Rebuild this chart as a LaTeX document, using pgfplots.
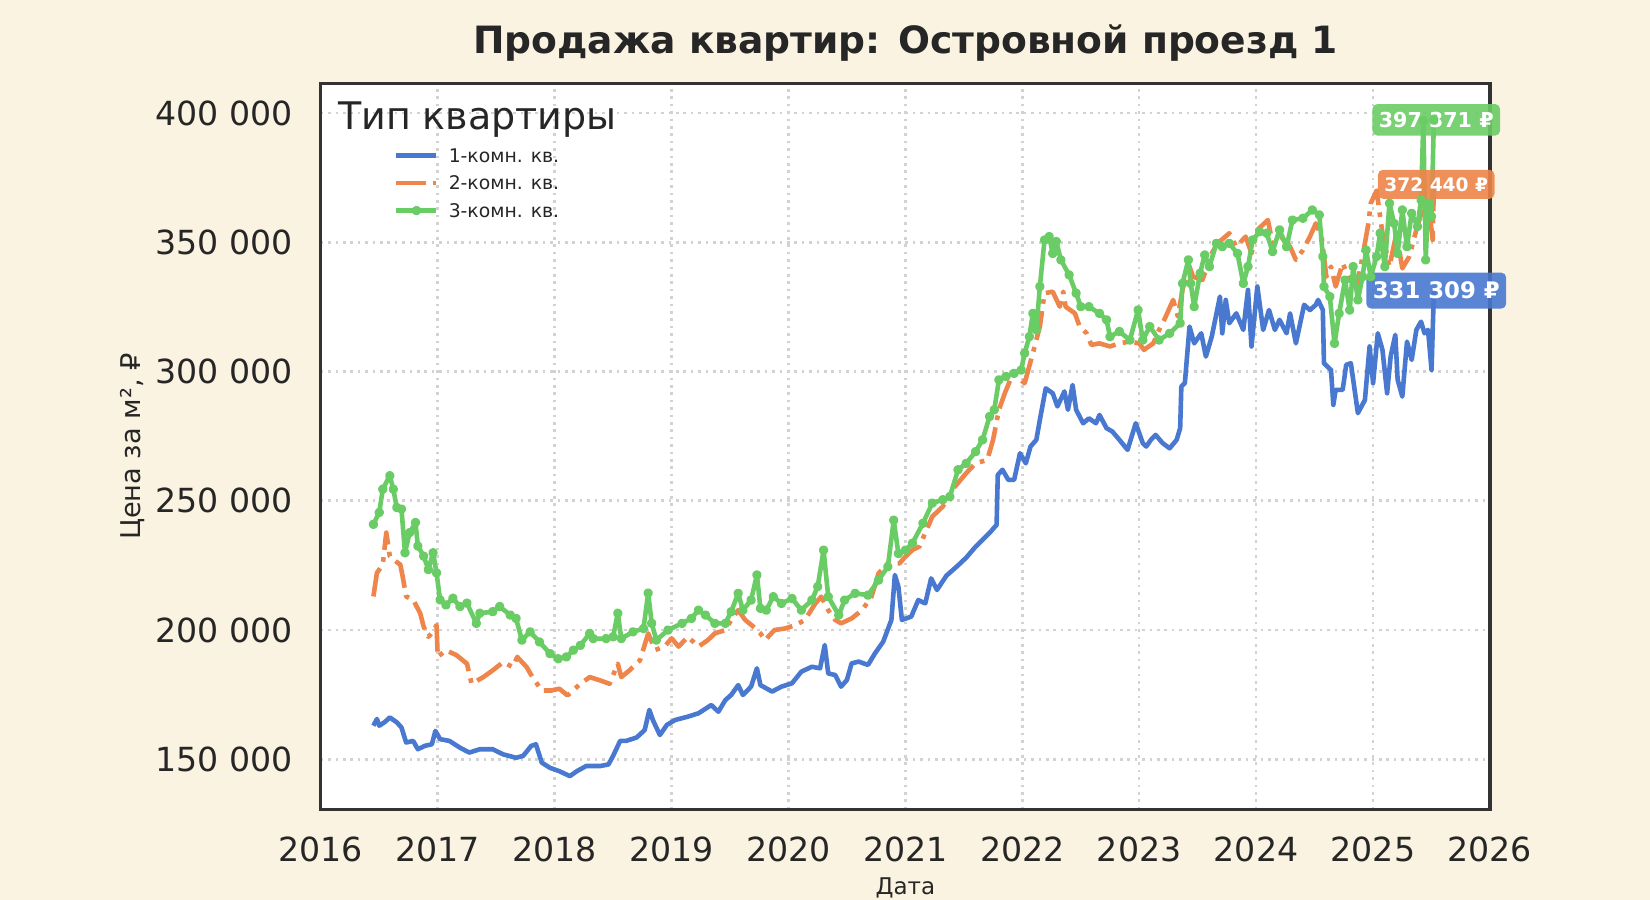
\documentclass[border=0pt]{standalone}
\usepackage{fontspec}
\setmainfont{DejaVu Sans}
\usepackage{pgfplots}
\pgfplotsset{compat=1.18}

\definecolor{bgcream}{HTML}{FBF3E1}
\definecolor{c1}{HTML}{4878D0}
\definecolor{c2}{HTML}{EE854A}
\definecolor{c3}{HTML}{6ACC64}
\definecolor{txt}{HTML}{262626}
\definecolor{framec}{HTML}{333333}
\definecolor{gridc}{HTML}{D2D2D2}

\begin{document}
\begin{tikzpicture}
\fill[bgcream] (0,0) rectangle (825bp,450bp);
\begin{axis}[
  at={(160.4bp,45.25bp)}, anchor=south west,
  scale only axis, width=584.6bp, height=362.9bp,
  xmin=2016, xmax=2026, ymin=130580, ymax=411354,
  clip=false,
  axis background/.style={fill=white},
  axis line style={framec, line width=1.6bp},
  xtick={2016,2017,...,2026},
  xticklabels={2016,2017,2018,2019,2020,2021,2022,2023,2024,2025,2026},
  ytick={150000,200000,250000,300000,350000,400000},
  yticklabels={150 000,200 000,250 000,300 000,350 000,400 000},
  scaled x ticks=false, scaled y ticks=false,
  major tick length=0pt,
  ticklabel style={text=txt, font=\fontsize{16.6bp}{19bp}\selectfont, inner sep=0pt},
  xticklabel style={anchor=center, yshift=-20.2bp},
  yticklabel style={anchor=east, xshift=-13.7bp},
  grid=major,
  major grid style={gridc, line width=1.3bp, dash pattern=on 1.3bp off 2.4bp},
  title={Продажа квартир: Островной проезд 1},
  title style={at={(axis description cs:0.5,1.041)}, anchor=base, yshift=-6pt, text=txt,
    font=\bfseries\fontsize{18.8bp}{22bp}\selectfont, inner sep=0pt},
  xlabel={Дата},
  xlabel style={at={(axis description cs:0.5,-0.1168)}, anchor=base, text=txt,
    font=\fontsize{11.5bp}{13bp}\selectfont, inner sep=0pt},
  ylabel={Цена за м², ₽},
  ylabel style={at={(axis description cs:-0.1538,0.5)}, anchor=base, text=txt,
    font=\fontsize{13.6bp}{15bp}\selectfont, inner sep=0pt},
  legend cell align=left,
  legend image code/.code={\draw[mark repeat=2,mark phase=2,#1] plot coordinates {(0bp,0bp) (10bp,0bp) (20bp,0bp)};},
  legend style={at={(axis description cs:0.0624,0.911)}, anchor=north west,
    draw=none, fill=none, inner sep=0pt, text=txt,
    font=\fontsize{9.4bp}{11bp}\selectfont,
    nodes={inner sep=0pt, text height=6.9bp, text depth=0pt},
    column sep=5bp, row sep=6.85bp},
  every axis plot/.append style={line width=2.3bp, line join=round},
]

\addplot[c1, no marks] coordinates {
(2016.45,163000)(2016.48,165600)(2016.50,163000)(2016.55,164500)(2016.59,166200)(2016.65,164300)
(2016.69,162300)(2016.73,156500)(2016.79,157100)(2016.83,153900)(2016.89,155200)(2016.95,155800)
(2016.98,161000)(2017.02,157800)(2017.10,157100)(2017.19,154500)(2017.27,152600)(2017.36,153900)
(2017.47,153900)(2017.56,151900)(2017.67,150600)(2017.73,151300)(2017.80,155200)(2017.84,155800)
(2017.89,148700)(2017.96,146700)(2018.04,145400)(2018.13,143500)(2018.19,145400)(2018.27,147400)
(2018.39,147400)(2018.46,148000)(2018.50,151300)(2018.56,157100)(2018.61,157100)(2018.70,158400)
(2018.77,161300)(2018.81,169100)(2018.84,165200)(2018.90,159400)(2018.96,163300)(2019.03,165200)
(2019.14,166500)(2019.23,167800)(2019.34,171000)(2019.40,168400)(2019.46,172900)(2019.51,174900)
(2019.57,178700)(2019.61,174900)(2019.68,178100)(2019.73,185200)(2019.76,178700)(2019.86,176200)
(2019.94,178100)(2020.03,179400)(2020.11,183900)(2020.20,185800)(2020.27,185200)(2020.31,194200)
(2020.34,183200)(2020.40,182600)(2020.45,178100)(2020.50,180700)(2020.54,187100)(2020.60,187800)
(2020.68,186500)(2020.74,191000)(2020.81,195500)(2020.88,203900)(2020.91,221300)(2020.94,216800)
(2020.97,203900)(2021.05,205200)(2021.11,211600)(2021.17,210300)(2021.22,220000)(2021.27,215500)
(2021.35,221000)(2021.45,225000)(2021.52,228000)(2021.59,231700)(2021.66,234900)(2021.73,238100)
(2021.78,240700)(2021.79,260000)(2021.83,262000)(2021.88,258100)(2021.93,258100)(2021.98,268400)
(2022.03,264500)(2022.07,271000)(2022.12,273600)(2022.15,281300)(2022.20,293500)(2022.26,291600)
(2022.30,286500)(2022.36,292300)(2022.39,285200)(2022.43,294800)(2022.46,285200)(2022.52,280000)
(2022.57,281900)(2022.63,280000)(2022.66,283200)(2022.72,278100)(2022.77,276800)(2022.83,273600)
(2022.90,269700)(2022.97,280000)(2023.03,272300)(2023.06,271000)(2023.10,273600)(2023.14,275500)
(2023.20,272300)(2023.26,270300)(2023.32,273600)(2023.35,278100)(2023.36,294200)(2023.39,295500)
(2023.43,317400)(2023.47,310900)(2023.53,314800)(2023.57,305800)(2023.62,313500)(2023.69,329000)
(2023.71,314800)(2023.74,327700)(2023.77,318700)(2023.83,322500)(2023.89,316100)(2023.93,331600)
(2023.96,309700)(2024.01,332900)(2024.06,316100)(2024.11,323800)(2024.16,316100)(2024.20,320000)
(2024.26,314800)(2024.29,322500)(2024.34,310900)(2024.41,325800)(2024.46,323800)(2024.51,325800)
(2024.53,327700)(2024.57,323800)(2024.58,303200)(2024.64,300600)(2024.66,287100)(2024.68,292900)
(2024.74,292900)(2024.77,302600)(2024.81,303200)(2024.87,283900)(2024.93,289000)(2024.97,309700)
(2025.00,295500)(2025.04,314800)(2025.08,308400)(2025.12,291600)(2025.15,305800)(2025.19,314200)
(2025.21,296800)(2025.25,290300)(2025.29,311600)(2025.33,304500)(2025.37,316100)(2025.41,319300)
(2025.44,314800)(2025.47,316100)(2025.50,300600)(2025.52,331309)
};
\addlegendentry{1-комн. кв.}

\addplot[c2, no marks, dash pattern=on 14.7bp off 3.7bp on 2.3bp off 3.7bp] coordinates {
(2016.45,213000)(2016.48,222100)(2016.53,225300)(2016.56,237700)(2016.59,228600)(2016.62,227300)
(2016.68,225300)(2016.70,220800)(2016.73,213000)(2016.79,211700)(2016.85,206500)(2016.88,201300)
(2016.92,197400)(2016.96,199300)(2016.99,201900)(2017.00,189600)(2017.07,192200)(2017.16,190300)
(2017.25,187000)(2017.29,179200)(2017.39,181800)(2017.47,184400)(2017.56,187600)(2017.64,185700)
(2017.68,189600)(2017.76,185700)(2017.81,181800)(2017.89,176600)(2017.97,176600)(2018.04,177300)
(2018.11,174700)(2018.22,179200)(2018.30,181800)(2018.39,180500)(2018.47,179200)(2018.54,187000)
(2018.57,181800)(2018.64,184400)(2018.73,188300)(2018.80,198700)(2018.86,192300)(2018.94,193600)
(2019.00,196800)(2019.06,193600)(2019.14,197400)(2019.23,193600)(2019.31,196100)(2019.37,198700)
(2019.46,200000)(2019.51,203900)(2019.57,207700)(2019.63,203900)(2019.70,201300)(2019.76,198700)
(2019.80,196100)(2019.88,200000)(2019.97,200600)(2020.06,201900)(2020.14,203900)(2020.23,210300)
(2020.28,212900)(2020.34,207700)(2020.40,203900)(2020.45,202600)(2020.54,204500)(2020.63,207700)
(2020.71,212900)(2020.77,221900)(2020.85,225800)(2020.95,225800)(2021.00,228400)(2021.06,231000)
(2021.12,232300)(2021.23,243900)(2021.32,247800)(2021.40,254200)(2021.52,260700)(2021.60,264500)
(2021.70,265800)(2021.75,273600)(2021.80,285200)(2021.85,291600)(2021.92,299300)(2022.02,295500)
(2022.09,307100)(2022.15,317400)(2022.19,330300)(2022.26,330900)(2022.32,325100)(2022.35,330900)
(2022.37,325100)(2022.45,322500)(2022.49,317400)(2022.55,314800)(2022.59,310300)(2022.66,310900)
(2022.75,309700)(2022.83,310900)(2022.92,311600)(2023.00,310900)(2023.04,308400)(2023.12,310900)
(2023.17,316100)(2023.22,320600)(2023.29,327700)(2023.33,321300)(2023.37,331600)(2023.42,341900)
(2023.46,336700)(2023.54,335400)(2023.62,345700)(2023.67,349600)(2023.77,353500)(2023.83,348300)
(2023.91,352200)(2023.96,345700)(2024.01,354800)(2024.10,358600)(2024.14,349600)(2024.21,352200)
(2024.29,348300)(2024.34,343200)(2024.40,347000)(2024.46,352200)(2024.51,357300)(2024.56,352200)
(2024.60,336700)(2024.64,340600)(2024.68,332900)(2024.74,341900)(2024.80,335400)(2024.86,332900)
(2024.91,344500)(2024.96,357300)(2024.98,365100)(2025.03,370000)(2025.08,353500)(2025.14,340600)
(2025.20,353500)(2025.25,339900)(2025.31,344500)(2025.37,354800)(2025.43,363800)(2025.48,362500)
(2025.51,350900)(2025.52,372440)
};
\addlegendentry{2-комн. кв.}

\addplot[c3, mark=*, mark size=1.2bp, mark options={solid, draw=none}] coordinates {
(2016.45,240900)(2016.50,245500)(2016.53,254500)(2016.59,259700)(2016.62,254500)(2016.65,247400)
(2016.69,246800)(2016.72,229900)(2016.76,237700)(2016.81,241600)(2016.83,232500)(2016.88,228600)
(2016.92,223400)(2016.96,229900)(2016.99,222100)(2017.02,211700)(2017.07,209700)(2017.13,212300)
(2017.19,209100)(2017.25,210400)(2017.33,202600)(2017.36,206500)(2017.47,207100)(2017.53,209100)
(2017.62,205800)(2017.67,204500)(2017.72,196100)(2017.79,199300)(2017.87,195400)(2017.96,190900)
(2018.03,188900)(2018.10,189600)(2018.16,192200)(2018.22,194100)(2018.30,198700)(2018.33,196700)
(2018.44,196700)(2018.50,197400)(2018.54,206500)(2018.57,196700)(2018.67,199300)(2018.76,200600)
(2018.80,214300)(2018.83,202600)(2018.87,196100)(2018.97,200000)(2019.09,202600)(2019.17,204500)
(2019.23,207700)(2019.29,205800)(2019.37,202600)(2019.46,202600)(2019.51,207100)(2019.57,214200)
(2019.61,207700)(2019.68,211600)(2019.73,221300)(2019.76,208400)(2019.81,207700)(2019.87,212900)
(2019.94,210300)(2020.03,212200)(2020.11,207700)(2020.20,211600)(2020.25,216800)(2020.30,230900)
(2020.34,212900)(2020.43,205800)(2020.48,211600)(2020.57,214200)(2020.68,213500)(2020.77,219300)
(2020.85,224500)(2020.90,242500)(2020.94,229600)(2021.00,230900)(2021.06,233600)(2021.15,241300)
(2021.23,249100)(2021.32,250400)(2021.38,251600)(2021.45,262000)(2021.52,264500)(2021.60,269000)
(2021.66,273600)(2021.72,282600)(2021.76,285200)(2021.80,296800)(2021.86,298100)(2021.93,299300)
(2021.99,300600)(2022.02,307100)(2022.06,313500)(2022.09,322500)(2022.12,316100)(2022.15,332900)
(2022.19,350900)(2022.23,352200)(2022.26,345700)(2022.29,350300)(2022.33,343200)(2022.40,337400)
(2022.46,330300)(2022.50,325100)(2022.57,325100)(2022.66,322500)(2022.72,320000)(2022.75,313500)
(2022.83,315500)(2022.92,312200)(2022.99,323800)(2023.03,312200)(2023.09,317400)(2023.17,312200)
(2023.26,314800)(2023.35,318700)(2023.37,334100)(2023.42,343200)(2023.44,334100)(2023.47,325100)
(2023.52,338000)(2023.56,345100)(2023.60,340600)(2023.66,349600)(2023.71,348300)(2023.77,349600)
(2023.84,345700)(2023.89,334100)(2023.93,340600)(2023.97,350900)(2024.03,354100)(2024.09,353500)
(2024.14,346400)(2024.20,354800)(2024.26,348300)(2024.31,358600)(2024.40,359300)(2024.48,362500)
(2024.54,360600)(2024.57,344500)(2024.58,332900)(2024.63,329000)(2024.67,310900)(2024.71,322500)
(2024.76,335400)(2024.80,323800)(2024.83,340600)(2024.87,327700)(2024.91,336700)(2024.94,347000)
(2024.98,336700)(2025.03,344500)(2025.06,353500)(2025.10,340600)(2025.14,365100)(2025.18,357300)
(2025.21,345700)(2025.25,362500)(2025.29,348300)(2025.33,361200)(2025.38,356100)(2025.41,366400)
(2025.43,397000)(2025.45,343200)(2025.47,365100)(2025.50,360000)(2025.52,397371)
};
\addlegendentry{3-комн. кв.}

\node[anchor=base west, text=txt, font=\fontsize{19bp}{22bp}\selectfont, inner sep=0pt]
  at (axis description cs:0.0145,0.9366) {Тип квартиры};

\node[fill=c3, fill opacity=0.9, text opacity=1, text=white, rounded corners=2.5bp,
  font=\bfseries\fontsize{10.3bp}{12bp}\selectfont, inner xsep=3.25bp,
  text height=7.5bp, text depth=0pt, inner ysep=4.15bp]
  at (axis cs:2025.54,397371) {397 371 ₽};
\node[fill=c2, fill opacity=0.9, text opacity=1, text=white, rounded corners=2.5bp,
  font=\bfseries\fontsize{9.3bp}{11bp}\selectfont, inner xsep=3.25bp,
  text height=6.8bp, text depth=0pt, inner ysep=3.85bp]
  at (axis cs:2025.54,372440) {372 440 ₽};
\node[fill=c1, fill opacity=0.9, text opacity=1, text=white, rounded corners=2.5bp,
  font=\bfseries\fontsize{11.4bp}{13bp}\selectfont, inner xsep=3.25bp,
  text height=8.3bp, text depth=0pt, inner ysep=4.85bp]
  at (axis cs:2025.54,331309) {331 309 ₽};
\end{axis}
\pgfresetboundingbox
\useasboundingbox (0,0) rectangle (825bp,450bp);
\end{tikzpicture}
\end{document}
